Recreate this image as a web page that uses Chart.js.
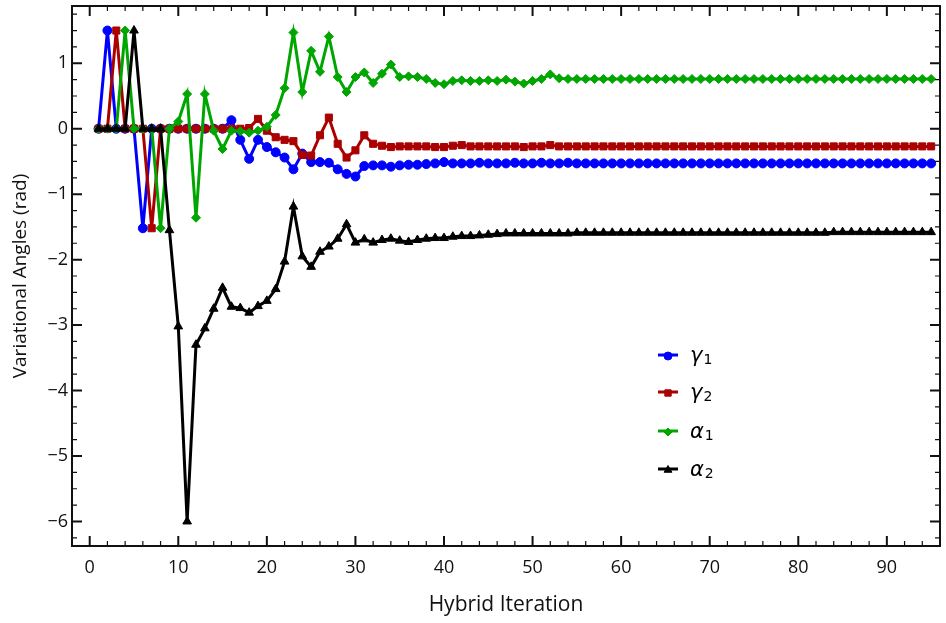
<!DOCTYPE html>
<html>
<head>
<meta charset="utf-8">
<script src="https://cdn.jsdelivr.net/npm/chart.js@4.4.1/dist/chart.umd.min.js"></script>
<style>
  html, body { margin: 0; padding: 0; background: #fff; }
  #wrap { width: 946px; height: 623px; }
</style>
</head>
<body>
<div id="wrap"><canvas id="graphique" width="946" height="623"></canvas></div>
<script>
// Iterations 1..95
const iterations = Array.from({ length: 95 }, (_, i) => i + 1);

const gamma1 = [
  0, 1.5, 0, 0, 0, -1.52, 0, 0, 0, 0,
  0, 0, 0, 0, 0, 0.13, -0.17, -0.46, -0.17, -0.28,
  -0.36, -0.44, -0.62, -0.38, -0.51, -0.51, -0.52, -0.62, -0.69, -0.73,
  -0.57, -0.56, -0.56, -0.58, -0.56, -0.55, -0.55, -0.54, -0.53, -0.51,
  -0.53, -0.53, -0.53, -0.52, -0.53, -0.53, -0.53, -0.52, -0.53, -0.53,
  -0.52, -0.53, -0.53, -0.52, -0.53, -0.53, -0.53, -0.53, -0.53, -0.53,
  -0.53, -0.53, -0.53, -0.53, -0.53, -0.53, -0.53, -0.53, -0.53, -0.53,
  -0.53, -0.53, -0.53, -0.53, -0.53, -0.53, -0.53, -0.53, -0.53, -0.53,
  -0.53, -0.53, -0.53, -0.53, -0.53, -0.53, -0.53, -0.53, -0.53, -0.53,
  -0.53, -0.53, -0.53, -0.53, -0.53
];

const gamma2 = [
  0, 0, 1.5, 0, 0, 0, -1.52, 0, 0, 0,
  0, 0, 0, 0, 0, 0, 0, 0.01, 0.15, -0.03,
  -0.13, -0.17, -0.19, -0.40, -0.41, -0.10, 0.17, -0.23, -0.44, -0.33,
  -0.10, -0.23, -0.26, -0.28, -0.27, -0.27, -0.27, -0.27, -0.28, -0.28,
  -0.26, -0.25, -0.27, -0.27, -0.27, -0.27, -0.27, -0.27, -0.28, -0.27,
  -0.27, -0.25, -0.27, -0.27, -0.27, -0.27, -0.27, -0.27, -0.27, -0.27,
  -0.27, -0.27, -0.27, -0.27, -0.27, -0.27, -0.27, -0.27, -0.27, -0.27,
  -0.27, -0.27, -0.27, -0.27, -0.27, -0.27, -0.27, -0.27, -0.27, -0.27,
  -0.27, -0.27, -0.27, -0.27, -0.27, -0.27, -0.27, -0.27, -0.27, -0.27,
  -0.27, -0.27, -0.27, -0.27, -0.27
];

const alpha1 = [
  0, 0, 0, 1.5, 0, 0, 0, -1.52, 0, 0.11,
  0.53, -1.36, 0.53, -0.03, -0.31, -0.03, -0.04, -0.06, -0.03, 0.03,
  0.21, 0.62, 1.47, 0.56, 1.19, 0.87, 1.41, 0.79, 0.56, 0.79,
  0.86, 0.70, 0.84, 0.98, 0.79, 0.80, 0.79, 0.76, 0.70, 0.68,
  0.73, 0.74, 0.73, 0.73, 0.74, 0.73, 0.75, 0.72, 0.69, 0.73,
  0.76, 0.83, 0.77, 0.76, 0.76, 0.76, 0.76, 0.76, 0.76, 0.76,
  0.76, 0.76, 0.76, 0.76, 0.76, 0.76, 0.76, 0.76, 0.76, 0.76,
  0.76, 0.76, 0.76, 0.76, 0.76, 0.76, 0.76, 0.76, 0.76, 0.76,
  0.76, 0.76, 0.76, 0.76, 0.76, 0.76, 0.76, 0.76, 0.76, 0.76,
  0.76, 0.76, 0.76, 0.76, 0.76
];

const alpha2 = [
  0, 0, 0, 0, 1.5, 0, 0, 0, -1.55, -3.02,
  -6.0, -3.30, -3.05, -2.75, -2.43, -2.72, -2.74, -2.81, -2.71, -2.63,
  -2.45, -2.03, -1.19, -1.95, -2.11, -1.88, -1.80, -1.68, -1.46, -1.74,
  -1.69, -1.74, -1.70, -1.68, -1.71, -1.73, -1.70, -1.68, -1.67, -1.67,
  -1.65, -1.64, -1.64, -1.63, -1.62, -1.61, -1.60, -1.60, -1.60, -1.60,
  -1.60, -1.60, -1.60, -1.60, -1.59, -1.59, -1.59, -1.59, -1.59, -1.59,
  -1.59, -1.59, -1.59, -1.59, -1.59, -1.59, -1.59, -1.59, -1.59, -1.59,
  -1.59, -1.59, -1.59, -1.59, -1.59, -1.59, -1.59, -1.59, -1.59, -1.59,
  -1.59, -1.59, -1.59, -1.58, -1.58, -1.58, -1.58, -1.58, -1.58, -1.58,
  -1.58, -1.58, -1.58, -1.58, -1.58
];

const xTicks = [0, 10, 20, 30, 40, 50, 60, 70, 80, 90];
const yTicks = [-6, -5, -4, -3, -2, -1, 0, 1];

// styles des séries
const series = [
  { nom: "γ", indice: "1", valeurs: gamma1, couleur: "#0000ff", forme: "circle", rayon: 4.5 },
  { nom: "γ", indice: "2", valeurs: gamma2, couleur: "#aa0000", forme: "rect", rayon: 5 },
  { nom: "α", indice: "1", valeurs: alpha1, couleur: "#00a600", forme: "rectRot", rayon: 4.5 },
  { nom: "α", indice: "2", valeurs: alpha2, couleur: "#000000", forme: "triangle", rayon: 5 }
];

// Cadre + graduations vers l'intérieur, sur les 4 côtés
const cadrePlugin = {
  id: "cadre",
  afterDatasetsDraw(chart) {
    const { ctx, chartArea: a, scales: { x, y } } = chart;
    ctx.save();
    ctx.strokeStyle = "#111";

    ctx.lineWidth = 1.2;
    ctx.beginPath();
    for (let v = -2; v <= 96; v += 2) {
      if (v % 10 === 0) continue;
      const px = x.getPixelForValue(v);
      ctx.moveTo(px, a.bottom); ctx.lineTo(px, a.bottom - 5);
      ctx.moveTo(px, a.top); ctx.lineTo(px, a.top + 5);
    }
    for (let v = -6.25; v <= 1.75; v += 0.25) {
      if (Number.isInteger(v)) continue;
      const py = y.getPixelForValue(v);
      ctx.moveTo(a.left, py); ctx.lineTo(a.left + 5, py);
      ctx.moveTo(a.right, py); ctx.lineTo(a.right - 5, py);
    }
    ctx.stroke();

    ctx.lineWidth = 2;
    ctx.beginPath();
    xTicks.forEach(v => {
      const px = x.getPixelForValue(v);
      ctx.moveTo(px, a.bottom); ctx.lineTo(px, a.bottom - 10);
      ctx.moveTo(px, a.top); ctx.lineTo(px, a.top + 10);
    });
    yTicks.forEach(v => {
      const py = y.getPixelForValue(v);
      ctx.moveTo(a.left, py); ctx.lineTo(a.left + 10, py);
      ctx.moveTo(a.right, py); ctx.lineTo(a.right - 10, py);
    });
    ctx.stroke();

    ctx.strokeRect(a.left, a.top, a.right - a.left, a.bottom - a.top);
    ctx.restore();
  }
};

// Légende dessinée à la main (lettre grecque en italique + indice droit)
const legendePlugin = {
  id: "legende",
  afterDraw(chart) {
    const ctx = chart.ctx;
    const x0 = 658, x1 = 678, xt = 690;
    const lignes = [355, 392, 431, 469];
    ctx.save();
    series.forEach((s, i) => {
      const yy = lignes[i];
      ctx.strokeStyle = s.couleur;
      ctx.fillStyle = s.couleur;
      ctx.lineWidth = 3;
      ctx.beginPath();
      ctx.moveTo(x0, yy); ctx.lineTo(x1, yy);
      ctx.stroke();
      ctx.lineWidth = 1;
      Chart.helpers.drawPoint(ctx, { pointStyle: s.forme, radius: s.rayon - 0.5, rotation: 0, borderWidth: 1 }, (x0 + x1) / 2, yy + 1);

      ctx.fillStyle = "#000";
      ctx.textBaseline = "alphabetic";
      ctx.font = "italic 21px 'DejaVu Sans'";
      ctx.fillText(s.nom, xt, yy + 6.5);
      const w = ctx.measureText(s.nom).width;
      ctx.font = "14px 'DejaVu Sans'";
      ctx.fillText(s.indice, xt + w + 1, yy + 9);
    });
    ctx.restore();
  }
};

const moins = v => (v < 0 ? "\u2212" + Math.abs(v) : String(v));

const ctx = document.getElementById("graphique").getContext("2d");
new Chart(ctx, {
  type: "line",
  data: {
    datasets: series.map((s, i) => ({
      label: s.nom + s.indice,
      data: iterations.map((it, k) => ({ x: it, y: s.valeurs[k] })),
      borderColor: s.couleur,
      backgroundColor: s.couleur,
      pointBackgroundColor: s.couleur,
      pointBorderColor: s.couleur,
      pointStyle: s.forme,
      pointRadius: s.rayon,
      pointBorderWidth: 1,
      borderWidth: 3,
      tension: 0,
      fill: false,
      order: series.length - i
    }))
  },
  options: {
    responsive: false,
    animation: false,
    devicePixelRatio: 1,
    layout: { padding: { top: 5, right: 4, left: 0, bottom: 0 } },
    plugins: {
      legend: { display: false },
      tooltip: { enabled: false }
    },
    scales: {
      x: {
        type: "linear",
        min: -2,
        max: 96,
        afterBuildTicks: s => { s.ticks = xTicks.map(v => ({ value: v })); },
        afterFit: s => { s.height = 77; s.paddingLeft = 0; s.paddingRight = 0; },
        grid: { display: false, drawTicks: false },
        border: { display: false },
        ticks: {
          padding: 11,
          color: "#111",
          font: { family: "'Open Sans'", size: 18 },
          callback: v => moins(v)
        },
        title: {
          display: true,
          text: "Hybrid Iteration",
          color: "#111",
          font: { family: "'Open Sans'", size: 21 },
          padding: { top: 0, bottom: 5 }
        }
      },
      y: {
        type: "linear",
        min: -6.375,
        max: 1.875,
        afterBuildTicks: s => { s.ticks = yTicks.map(v => ({ value: v })); },
        afterFit: s => { s.width = 72; s.paddingTop = 0; s.paddingBottom = 0; },
        grid: { display: false, drawTicks: false },
        border: { display: false },
        ticks: {
          padding: 4,
          color: "#111",
          font: { family: "'Open Sans'", size: 18 },
          callback: v => moins(v)
        },
        title: {
          display: true,
          text: "Variational Angles (rad)",
          color: "#111",
          font: { family: "'Open Sans'", size: 19 },
          padding: { top: 9, bottom: 0 }
        }
      }
    }
  },
  plugins: [cadrePlugin, legendePlugin]
});
</script>
</body>
</html>
